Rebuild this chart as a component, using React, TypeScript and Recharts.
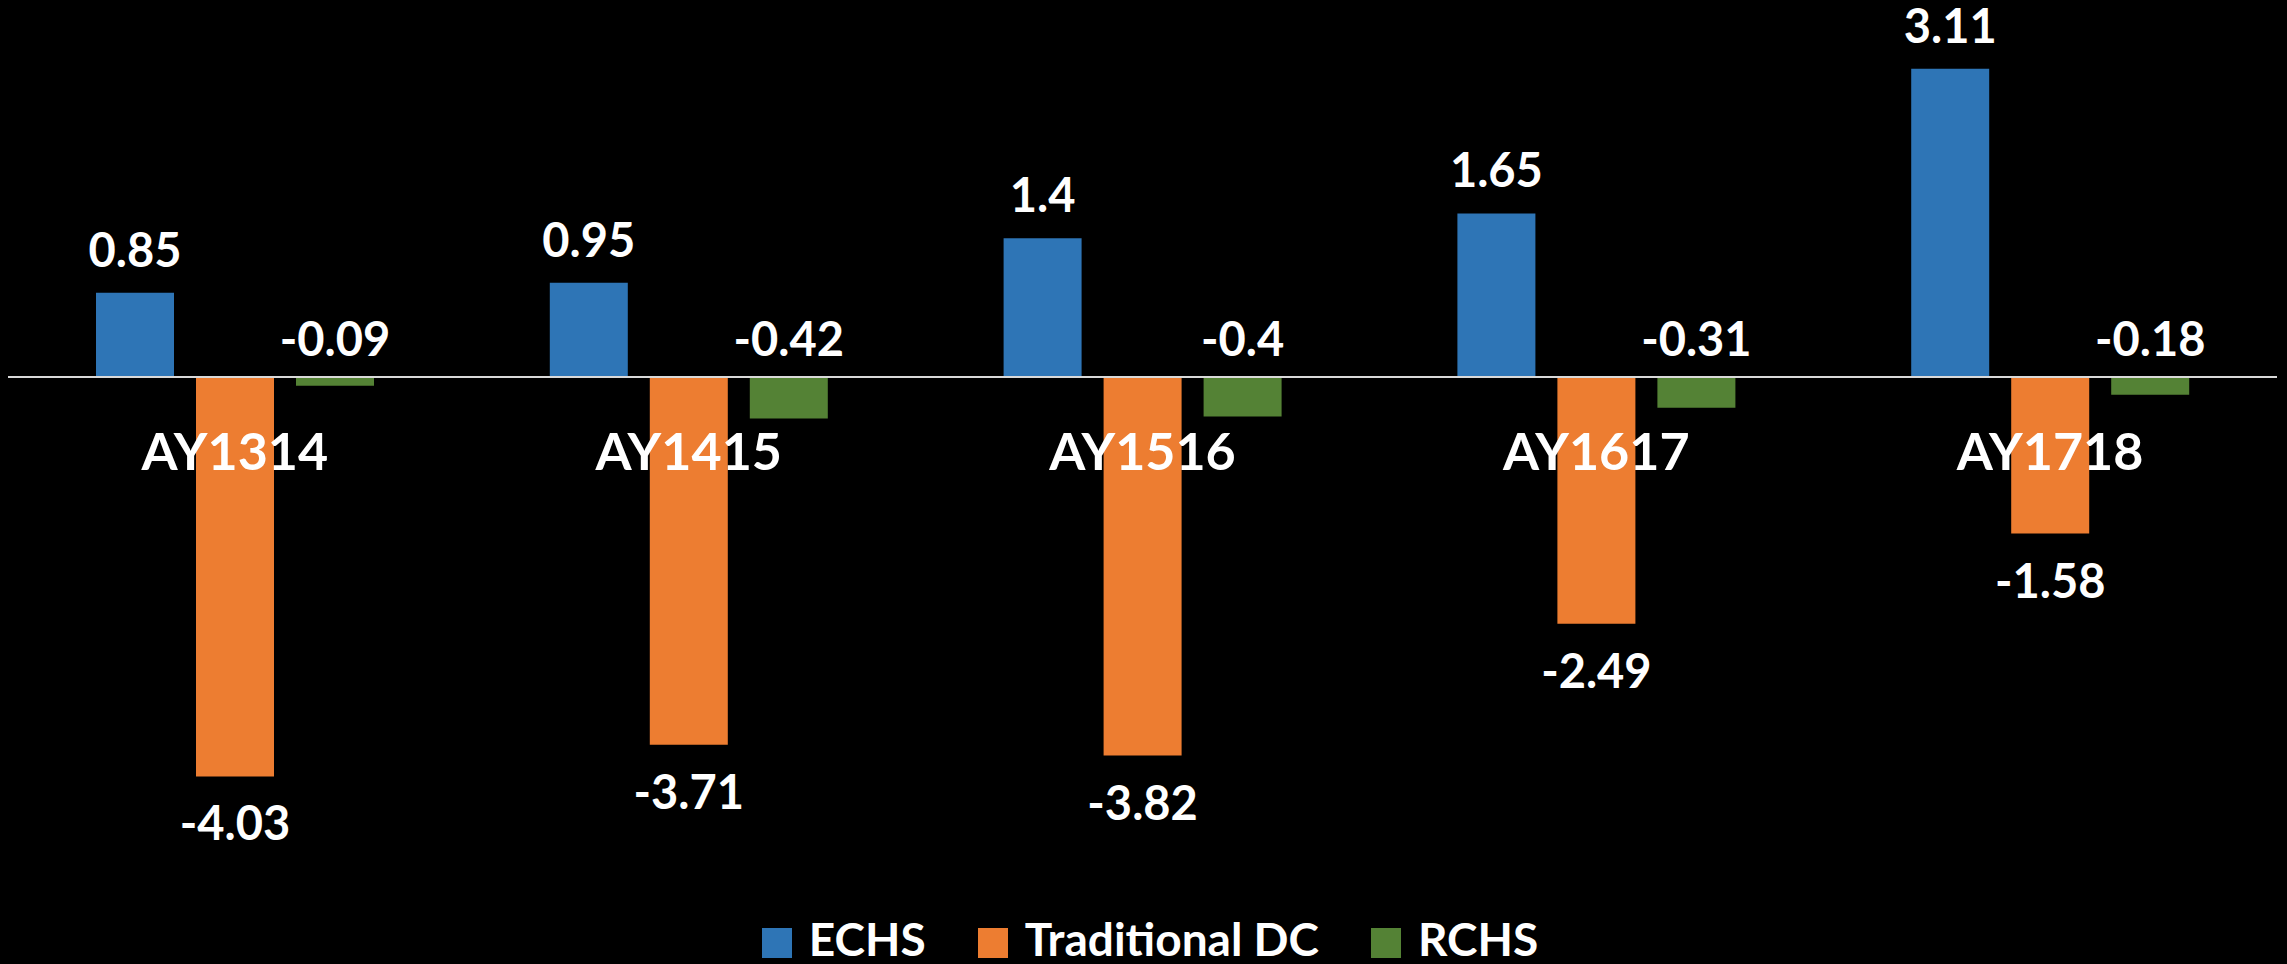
import React from "react";
import { BarChart, Bar, XAxis, YAxis, ReferenceLine, ReferenceDot, LabelList, Legend } from "recharts";

const categories = ["AY1314", "AY1415", "AY1516", "AY1617", "AY1718"];
const echs = [0.85, 0.95, 1.4, 1.65, 3.11];
const traditionalDC = [-4.03, -3.71, -3.82, -2.49, -1.58];
const rchs = [-0.09, -0.42, -0.4, -0.31, -0.18];

const seriesNames = ["ECHS", "Traditional DC", "RCHS"];
const colors = ["#2E75B6", "#ED7D31", "#548235"];

const data = categories.map((c, i) => ({
  name: c,
  ECHS: echs[i],
  "Traditional DC": traditionalDC[i],
  RCHS: rchs[i],
}));

const FONT = "Lato, 'Open Sans', sans-serif";

const makeLabel = (mode: "above" | "below") => (props: any) => {
  const { x, y, width, height, value } = props;
  const top = Math.min(y, y + height);
  const bottom = Math.max(y, y + height);
  const cx = x + width / 2;
  const ty = mode === "above" ? top - (value >= 0 ? 26 : 21) : bottom + 64;
  return (
    <text x={cx} y={ty} textAnchor="middle" fill="#FFFFFF" fontFamily={FONT} fontWeight={700} fontSize={47}>
      {String(value)}
    </text>
  );
};

const renderLegend = () => (
  <div
    style={{
      display: "flex",
      justifyContent: "center",
      alignItems: "center",
      height: 47,
      paddingLeft: 13,
      fontFamily: FONT,
      fontWeight: 700,
      fontSize: 46,
      color: "#FFFFFF",
      lineHeight: 1,
    }}
  >
    {seriesNames.map((n, i) => (
      <div key={n} style={{ display: "flex", alignItems: "center", marginLeft: i === 0 ? 0 : 52 }}>
        <div style={{ width: 30, height: 30, background: colors[i], marginRight: 17, marginTop: 8 }} />
        <span>{n}</span>
      </div>
    ))}
  </div>
);

export default function App() {
  return (
    <div style={{ position: "absolute", left: 0, top: 0, width: 2287, height: 964, background: "#000000" }}>
      <BarChart
        width={2287}
        height={964}
        data={data}
        margin={{ top: 30, right: 10, left: 8, bottom: 94 }}
        barSize={78}
        barGap={22}
      >
        <XAxis dataKey="name" hide />
        <YAxis hide domain={[-4.5, 3.5]} allowDataOverflow />
        <Legend
          verticalAlign="bottom"
          content={renderLegend}
          wrapperStyle={{ position: "absolute", top: 915, left: 0, width: 2287, height: 47 }}
        />
        {seriesNames.map((s, i) => (
          <Bar key={s} dataKey={s} fill={colors[i]} isAnimationActive={false}>
            <LabelList dataKey={s} content={makeLabel(i === 1 ? "below" : "above")} />
          </Bar>
        ))}
        <ReferenceLine y={0} stroke="#D9D9D9" strokeWidth={2} />
        {categories.map((c) => (
          <ReferenceDot
            key={c}
            x={c}
            y={0}
            r={0}
            fill="none"
            stroke="none"
            label={{
              value: c,
              position: "bottom",
              offset: 56,
              fill: "#FFFFFF",
              fontSize: 52,
              fontWeight: 700,
              fontFamily: FONT,
            }}
          />
        ))}
      </BarChart>
    </div>
  );
}
